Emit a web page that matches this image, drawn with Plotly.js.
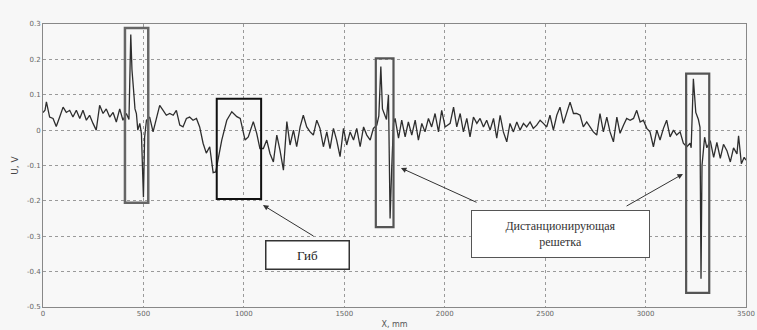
<!DOCTYPE html>
<html>
<head>
<meta charset="utf-8">
<script src="https://cdn.plot.ly/plotly-3.0.1.min.js"></script>
<style>html,body{margin:0;padding:0;background:#f7f7f7;}#chart{width:757px;height:330px;}</style>
</head>
<body>
<div id="chart"></div>
<script>
// Signal position, mm
const positionMm = [0,10,17,25,33,50,66,83,100,116,133,149,166,183,199,216,232,249,265,282,299,315,332,349,365,382,398,415,
428,437,443,450,458,465,472,482,490,500,506,515,531,548,564,581,598,614,631,648,664,681,697,714,730,747,764,780,797,813,830,847,
860,873,890,915,940,965,982,1006,1022,1047,1064,1080,1097,1114,1130,1147,1164,1180,1197,1214,1230,1247,1263,1280,1296,1313,1330,
1346,1363,1379,1396,1413,1429,1446,1462,1479,1496,1512,1529,1546,1562,1579,1596,1612,1629,1645,1662,1672,1682,1690,1700,1710,1720,
1728,1736,1745,1753,1770,1786,1803,1819,1836,1853,1869,1886,1902,1919,1935,1952,1969,1985,2002,2027,2044,2060,2077,2093,2110,2126,
2143,2160,2176,2193,2209,2226,2243,2259,2276,2292,2309,2325,2342,2359,2375,2392,2408,2425,2441,2458,2475,2491,2508,2524,2541,2558,
2574,2591,2608,2624,2641,2657,2674,2690,2707,2724,2740,2757,2773,2790,2807,2823,2840,2857,2873,2890,2906,2923,2940,2956,2973,2989,
3006,3022,3039,3056,3072,3089,3105,3122,3139,3155,3172,3188,3205,3222,3227,3238,3250,3263,3271,3276,3281,3294,3305,3322,3339,3355,
3372,3388,3405,3422,3438,3455,3463,3477,3491,3500];
// Signal voltage, V
const voltageV = [0.05,0.056,0.08,0.06,0.037,0.033,0.01,0.037,0.065,0.05,0.056,0.037,0.056,0.033,0.056,0.028,0.042,0.019,0.0,0.07,0.047,0.06,0.037,0.05,0.023,0.06,0.028,0.047,
0.03,0.27,0.17,0.12,0.06,0.047,0.0,0.019,-0.01,-0.19,-0.02,0.028,0.037,-0.005,0.028,0.07,0.056,0.042,0.047,0.042,0.056,0.014,0.009,0.033,0.037,0.028,0.033,0.009,-0.037,-0.065,-0.047,-0.12,
-0.118,-0.08,-0.028,0.028,0.052,0.038,0.033,-0.028,-0.019,0.024,-0.009,-0.052,-0.052,-0.028,-0.066,-0.09,-0.014,-0.057,-0.113,0.024,-0.042,0.0,-0.047,0.009,0.042,0.009,-0.005,
-0.014,0.028,0.005,-0.047,-0.005,-0.052,0.005,-0.028,-0.075,0.005,-0.042,-0.005,-0.028,0.005,-0.047,0.009,-0.014,-0.028,0.005,0.014,0.04,0.18,0.06,0.045,0.03,0.1,
-0.25,-0.11,0.02,0.033,-0.023,0.028,-0.019,0.023,-0.014,0.028,-0.028,0.019,-0.005,0.033,0.009,0.047,-0.005,0.056,0.009,0.019,0.065,0.009,0.047,-0.005,0.033,-0.019,
0.037,0.019,0.033,0.009,0.028,0.0,0.033,-0.023,0.042,-0.005,-0.033,0.019,-0.005,0.023,0.0,0.019,0.009,0.023,0.005,0.014,0.028,0.019,0.009,0.042,0.0,0.042,
0.065,0.019,0.047,0.079,0.047,0.047,0.042,0.009,0.023,0.009,-0.005,-0.014,0.047,-0.005,0.037,-0.005,-0.033,0.037,-0.009,0.014,0.033,0.028,0.033,0.056,0.023,0.028,
0.005,-0.005,-0.047,0.0,-0.028,0.005,0.028,-0.019,0.0,-0.014,-0.005,-0.037,-0.047,-0.037,-0.05,0.145,0.05,0.03,0.008,-0.42,-0.1,-0.02,-0.05,-0.03,-0.077,-0.035,
-0.08,-0.04,-0.058,-0.09,-0.05,-0.067,-0.016,-0.095,-0.077,-0.085];

const xTicks = [0,500,1000,1500,2000,2500,3000,3500];
const yTicks = [-0.5,-0.4,-0.3,-0.2,-0.1,0,0.1,0.2,0.3];
const yTickText = ['-0.5','-0.4','-0.3','-0.2','-0.1','0','0.1','0.2','0.3'];

const labelBend = 'Гиб';
const labelGrid = 'Дистанционирующая<br>решетка';

const serif = '"Liberation Serif", "Times New Roman", "DejaVu Serif", serif';

const trace = {
  x: positionMm, y: voltageV, type: 'scatter', mode: 'lines',
  line: {color: '#2e2e2e', width: 1.3}, hoverinfo: 'skip'
};

function rect(x0, x1, y0, y1, color, w) {
  return {type: 'rect', xref: 'x', yref: 'y', x0: x0, x1: x1, y0: y0, y1: y1,
    line: {color: color, width: w}, fillcolor: 'rgba(0,0,0,0)', layer: 'above'};
}
function arrow(tx, ty, hx, hy) {
  return {xref: 'x', yref: 'y', axref: 'x', ayref: 'y', x: hx, y: hy, ax: tx, ay: ty,
    text: '', showarrow: true, arrowhead: 2, arrowsize: 1.1, arrowwidth: 1, arrowcolor: '#333'};
}

const layout = {
  width: 757, height: 330,
  margin: {l: 43, r: 11, t: 24, b: 23},
  paper_bgcolor: '#f7f7f7', plot_bgcolor: '#f8f8f8',
  showlegend: false,
  xaxis: {
    range: [0, 3500], tickvals: xTicks, ticktext: xTicks.map(String),
    showgrid: true, gridcolor: '#9a9a9a', griddash: 'dot', gridwidth: 1,
    zeroline: false, showline: true, linecolor: '#888', linewidth: 1, mirror: true,
    ticks: '', tickfont: {family: 'DejaVu Sans', size: 7, color: '#666'},
    title: {text: 'X, mm', font: {family: 'DejaVu Sans', size: 8, color: '#555'}, standoff: 3},
    fixedrange: true
  },
  yaxis: {
    range: [-0.5, 0.3], tickvals: yTicks, ticktext: yTickText,
    showgrid: true, gridcolor: '#9a9a9a', griddash: 'dot', gridwidth: 1,
    zeroline: false, showline: true, linecolor: '#888', linewidth: 1, mirror: true,
    ticks: '', tickfont: {family: 'DejaVu Sans', size: 7, color: '#666'},
    title: {text: 'U, V', font: {family: 'DejaVu Sans', size: 9, color: '#444'}, standoff: 6},
    fixedrange: true
  },
  shapes: [
    rect(408, 524, -0.205, 0.289, '#666', 2.5),
    rect(865, 1086, -0.195, 0.089, '#111', 2),
    rect(1657, 1745, -0.274, 0.203, '#555', 2.2),
    rect(3202, 3317, -0.46, 0.16, '#555', 2.2)
  ],
  annotations: [
    arrow(1354, -0.302, 1095, -0.212),
    arrow(2166, -0.206, 1782, -0.107),
    arrow(2898, -0.217, 3186, -0.124),
    {xref: 'x', yref: 'y', x: 1319, y: -0.354, text: labelBend, showarrow: false,
     width: 80, height: 25, bgcolor: '#ffffff', bordercolor: '#333', borderwidth: 1.5, borderpad: 1,
     font: {family: serif, size: 13, color: '#222'}},
    {xref: 'x', yref: 'y', x: 2574, y: -0.295, text: labelGrid, showarrow: false,
     width: 175, height: 44, bgcolor: '#ffffff', bordercolor: '#555', borderwidth: 1, borderpad: 1,
     font: {family: serif, size: 12, color: '#333'}}
  ]
};

Plotly.newPlot('chart', [trace], layout, {displayModeBar: false, staticPlot: true});
</script>
</body>
</html>
